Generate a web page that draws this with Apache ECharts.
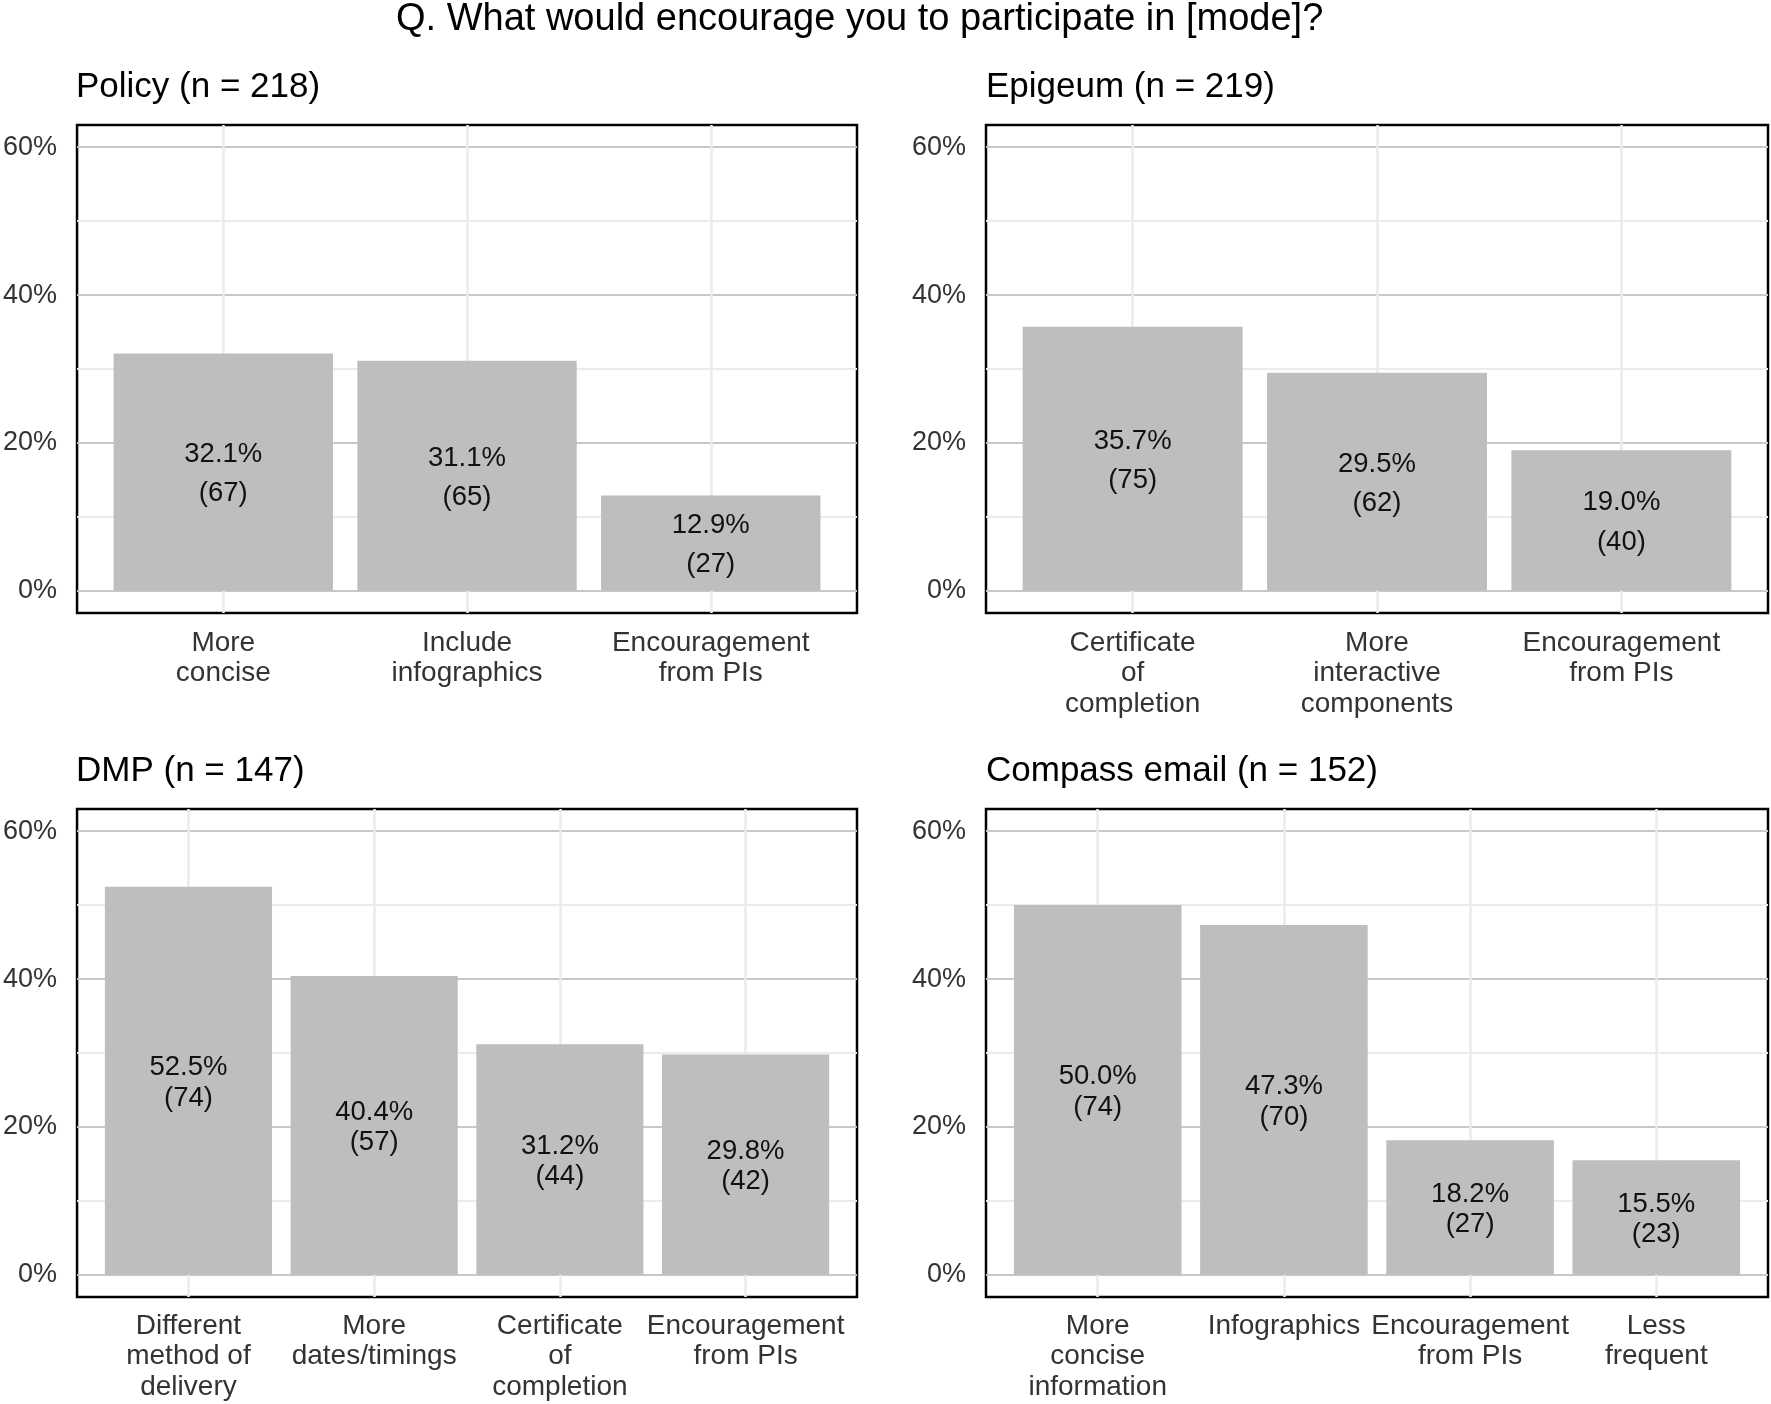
<!DOCTYPE html>
<html>
<head>
<meta charset="utf-8">
<script src="https://cdn.jsdelivr.net/npm/echarts@6/dist/echarts.min.js"></script>
<style>
html,body{margin:0;padding:0;background:#fff;}
#chart{width:1771px;height:1404px;}
</style>
</head>
<body>
<div id="chart"></div>
<script>
// ---------- data ----------
const mainTitle = 'Q. What would encourage you to participate in [mode]?';

const policyTitle = 'Policy (n = 218)';
const policyCats = ['More\nconcise', 'Include\ninfographics', 'Encouragement\nfrom PIs'];
const policyPct = [32.1, 31.1, 12.9];
const policyN = [67, 65, 27];

const epigeumTitle = 'Epigeum (n = 219)';
const epigeumCats = ['Certificate\nof\ncompletion', 'More\ninteractive\ncomponents', 'Encouragement\nfrom PIs'];
const epigeumPct = [35.7, 29.5, 19.0];
const epigeumN = [75, 62, 40];

const dmpTitle = 'DMP (n = 147)';
const dmpCats = ['Different\nmethod of\ndelivery', 'More\ndates/timings', 'Certificate\nof\ncompletion', 'Encouragement\nfrom PIs'];
const dmpPct = [52.5, 40.4, 31.2, 29.8];
const dmpN = [74, 57, 44, 42];

const compassTitle = 'Compass email (n = 152)';
const compassCats = ['More\nconcise\ninformation', 'Infographics', 'Encouragement\nfrom PIs', 'Less\nfrequent'];
const compassPct = [50.0, 47.3, 18.2, 15.5];
const compassN = [74, 70, 27, 23];

const yMajorTicks = [0, 20, 40, 60];
const yMinorTicks = [10, 30, 50];

// ---------- layout / style ----------
const FONT = '"Liberation Sans", Arial, sans-serif';
const panels = [
  {title: policyTitle, cats: policyCats, pct: policyPct, n: policyN, left: 76, top: 125, width: 781, height: 488, lh: 39.5, lm: 15},
  {title: epigeumTitle, cats: epigeumCats, pct: epigeumPct, n: epigeumN, left: 986, top: 125, width: 782, height: 488, lh: 39.5, lm: 15},
  {title: dmpTitle, cats: dmpCats, pct: dmpPct, n: dmpN, left: 76, top: 809, width: 781, height: 488, lh: 30.5, lm: 14},
  {title: compassTitle, cats: compassCats, pct: compassPct, n: compassN, left: 986, top: 809, width: 782, height: 488, lh: 30.5, lm: 14}
];

const option = {
  backgroundColor: '#ffffff',
  animation: false,
  title: [],
  grid: [],
  xAxis: [],
  yAxis: [],
  series: []
};

option.title.push({
  text: mainTitle, left: 396, top: 1, padding: 0,
  textStyle: {fontFamily: FONT, fontSize: 38, fontWeight: 'normal', color: '#000'}
});

panels.forEach((p, i) => {
  option.title.push({
    text: p.title, left: p.left, top: p.top - 55, padding: 0,
    textStyle: {fontFamily: FONT, fontSize: 35, fontWeight: 'normal', color: '#000'}
  });
  option.grid.push({
    left: p.left, top: p.top, width: p.width, height: p.height,
    show: true, borderColor: '#000', borderWidth: 2.5, backgroundColor: '#fff', containLabel: false
  });
  const pos = p.cats.map((c, k) => k + 1);
  option.xAxis.push({
    type: 'value', gridIndex: i, min: 0.4, max: p.cats.length + 0.6,
    axisLine: {show: false, onZero: false},
    axisTick: {show: false, customValues: pos},
    axisLabel: {
      customValues: pos, margin: p.lm, fontFamily: FONT, fontSize: 28, color: '#333',
      lineHeight: 30.5, align: 'center', verticalAlign: 'top',
      formatter: v => p.cats[Math.round(v) - 1] || ''
    },
    splitLine: {show: true, lineStyle: {color: '#ebebeb', width: 2.5}}
  });
  option.yAxis.push({
    type: 'value', gridIndex: i, min: -3, max: 63,
    axisLine: {show: false},
    axisTick: {show: false, customValues: yMinorTicks},
    axisLabel: {show: false, customValues: yMinorTicks},
    splitLine: {show: true, lineStyle: {color: '#ebebeb', width: 2}}
  });
  option.yAxis.push({
    type: 'value', gridIndex: i, min: -3, max: 63, position: 'left',
    axisLine: {show: false, onZero: false},
    axisTick: {show: false, customValues: yMajorTicks},
    axisLabel: {
      customValues: yMajorTicks, margin: 20, fontFamily: FONT, fontSize: 27, color: '#333',
      formatter: v => v + '%'
    },
    splitLine: {show: true, lineStyle: {color: '#c8c8c8', width: 2}}
  });
  option.series.push({
    type: 'bar', xAxisIndex: i, yAxisIndex: 2 * i + 1,
    barWidth: '90%',
    data: p.pct.map((v, k) => [k + 1, v]),
    itemStyle: {color: '#bebebe'},
    label: {
      show: true, position: 'inside', offset: [0, 2], fontFamily: FONT, fontSize: 27.5, color: '#111',
      lineHeight: p.lh,
      formatter: d => p.pct[d.dataIndex].toFixed(1) + '%\n(' + p.n[d.dataIndex] + ')'
    },
    silent: true
  });
});

const chart = echarts.init(document.getElementById('chart'), null, {renderer: 'canvas'});
chart.setOption(option);
</script>
</body>
</html>
